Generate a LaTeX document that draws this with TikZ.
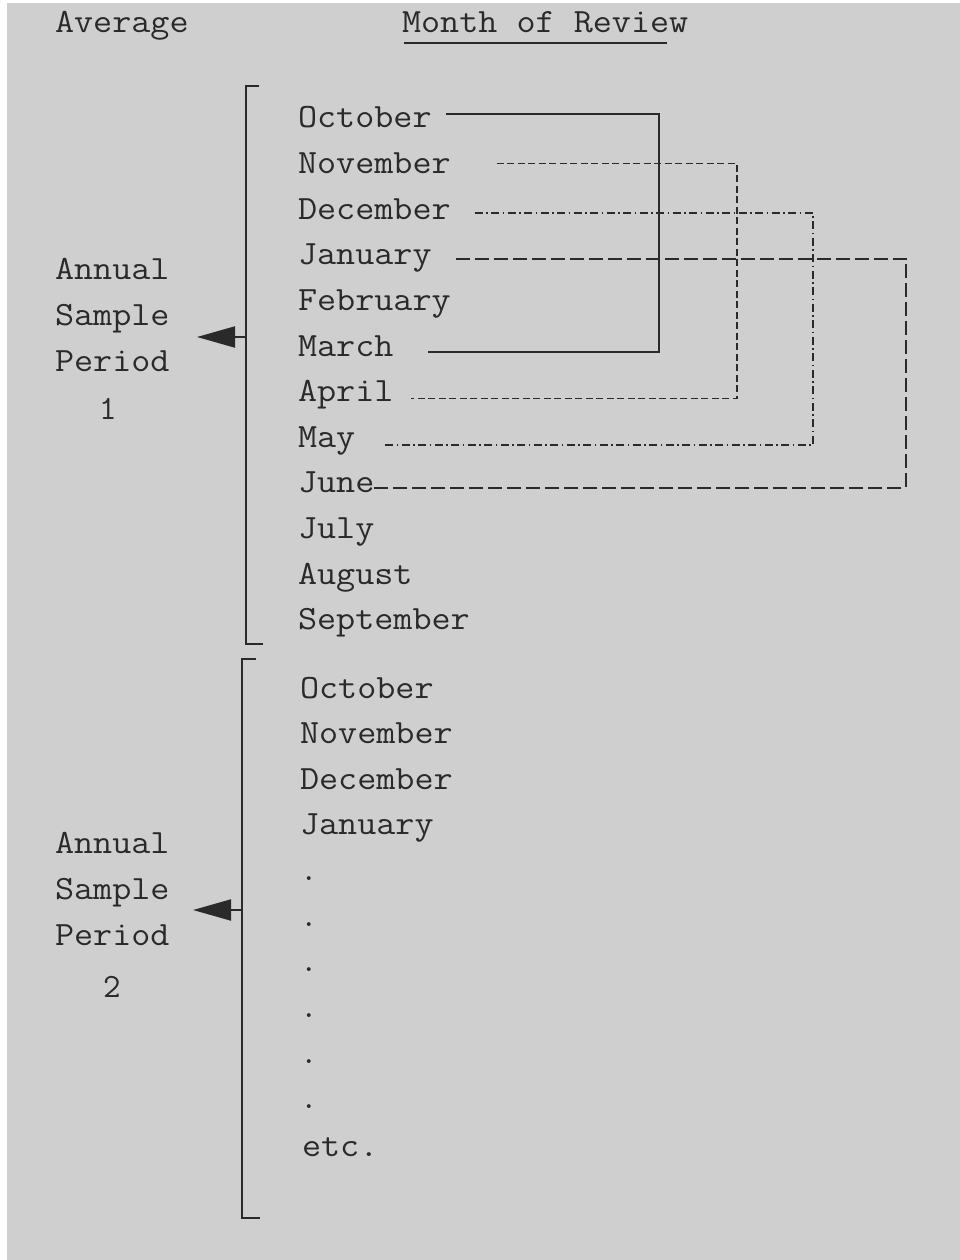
\documentclass[tikz,border=0pt]{standalone}
\usepackage{fontspec}
\usepackage{graphicx}
\usetikzlibrary{arrows.meta}
\definecolor{paper}{HTML}{CFCFCF}
\definecolor{ink}{HTML}{2A2A2A}
\newcommand\wideTxt[1]{\scalebox{1.09}[1]{#1}}
\begin{document}
\begin{tikzpicture}[x=1pt,y=-1pt,
  txt/.style={anchor=base west,inner sep=0pt,outer sep=0pt,text=ink,font={\ttfamily\fontsize{34}{40}\selectfont}},
  ctr/.style={txt,anchor=base},
  ln/.style={draw=ink,line width=1.8pt},
  solidln/.style={ln},
  shortdash/.style={ln,line width=1.5pt,dash pattern=on 7pt off 3.5pt},
  dashdot/.style={ln,line width=1.5pt,dash pattern=on 8pt off 3.5pt on 1.5pt off 3.5pt},
  longdash/.style={ln,line width=1.6pt,dash pattern=on 14pt off 5pt},
  brk/.style={ln,line width=2pt},
  arr/.style={ln,line width=2pt,-{Triangle[length=38pt,width=21pt]}}
]
\useasboundingbox (0,0) rectangle (960,1260);
\fill[white] (0,0) rectangle (960,1260);
\fill[paper] (7,3) rectangle (960,1260);

% header
\node[txt] (avg) at (55,33) {\wideTxt{Average}};
\node[txt] (mor) at (402,33) {\wideTxt{Month of Review}};
\draw[ink,line width=2.5pt] (404,43) -- (667,43);

% left labels
\node[txt] (p1a) at (55,279) {\wideTxt{Annual}};
\node[txt] (p1b) at (55,325) {\wideTxt{Sample}};
\node[txt] (p1c) at (55,371) {\wideTxt{Period}};
\node[ctr] (p1d) at (108,419) {1};
\node[txt] (p2a) at (55,853) {\wideTxt{Annual}};
\node[txt] (p2b) at (55,899) {\wideTxt{Sample}};
\node[txt] (p2c) at (55,945) {\wideTxt{Period}};
\node[ctr] (p2d) at (112,997) {2};

% month list 1
\foreach \m [count=\i from 0] in {October,November,December,January,February,March,April,May,June,July,August,September}
  \node[txt] (a\i) at (298,{128+45.6*\i}) {\wideTxt{\m}};

% month list 2
\foreach \m [count=\i from 0] in {October,November,December,January}
  \node[txt] (b\i) at (300,{698+45.6*\i}) {\wideTxt{\m}};
\foreach \i in {1,...,6}
  \node[txt] (d\i) at (300,{835+45.6*\i}) {.};
\node[txt] (etc) at (302,1156) {\wideTxt{etc.}};

% brackets
\draw[brk] (259,86) -- (245.5,86) -- (245.5,644) -- (263,644);
\draw[brk] (256,659) -- (242,659) -- (242,1218) -- (260,1218);

% arrows
\coordinate (m1) at (245.5,337);
\coordinate (t1) at (197,337);
\draw[arr] (m1) -- (t1);
\coordinate (m2) at (242,910);
\coordinate (t2) at (193,910);
\draw[arr] (m2) -- (t2);

% connectors
\coordinate (v1) at (659,0);
\coordinate (v2) at (737,0);
\coordinate (v3) at (813,0);
\coordinate (v4) at (906,0);

\coordinate (s1) at ([shift={(14,-14)}]a0.base east);
\coordinate (e1) at ([shift={(35,-4)}]a5.base east);
\draw[solidln] (s1) -- (s1 -| v1) -- (e1 -| v1) -- (e1);

\coordinate (s2) at ([shift={(46,-10)}]a1.base east);
\coordinate (e2) at ([shift={(18,-3)}]a6.base east);
\draw[shortdash] (s2) -- (s2 -| v2) -- (e2 -| v2) -- (e2);

\coordinate (s3) at ([shift={(24,-6)}]a2.base east);
\coordinate (e3) at ([shift={(27,-2)}]a7.base east);
\draw[dashdot] (s3) -- (s3 -| v3) -- (e3 -| v3) -- (e3);

\coordinate (s4) at ([shift={(24,-6)}]a3.base east);
\coordinate (e4) at ([shift={(-3,-5)}]a8.base east);
\draw[longdash] (s4) -- (s4 -| v4) -- (e4 -| v4) -- (e4);
\end{tikzpicture}
\end{document}
